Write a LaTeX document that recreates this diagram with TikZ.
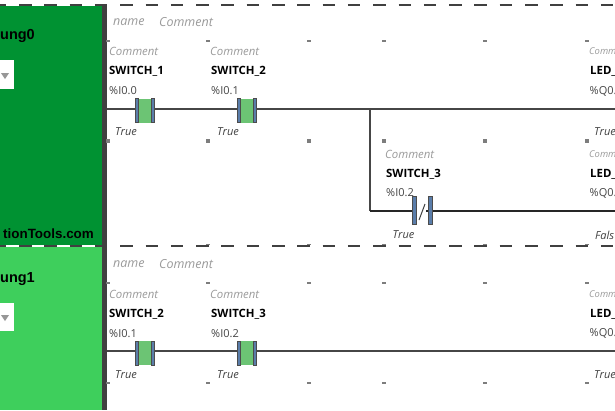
\documentclass[tikz,border=0pt]{standalone}
\usepackage{fontspec}
\setmainfont{Open Sans}
\newfontfamily\arialfont{Liberation Sans}
\definecolor{darkgrn}{RGB}{0,146,50}
\definecolor{lightgrn}{RGB}{62,207,92}
\definecolor{divgrey}{RGB}{64,64,64}
\definecolor{cmt}{RGB}{155,155,155}
\definecolor{addr}{RGB}{70,70,70}
\definecolor{bar}{RGB}{90,125,170}
\definecolor{fillc}{RGB}{108,196,116}
\definecolor{wire}{RGB}{70,70,70}
\definecolor{gridc}{RGB}{125,125,125}
\tikzset{
 x=1pt,y=-1pt,
 cmtlab/.style={anchor=west,inner sep=0,text=cmt,font=\fontsize{11.4}{11}\selectfont\itshape},
 cmtcut/.style={anchor=west,inner sep=0,text=cmt,font=\fontsize{9.4}{11}\selectfont\itshape},
 hdrlab/.style={anchor=west,inner sep=0,text=cmt,font=\fontsize{12.5}{12}\selectfont\itshape},
 varlab/.style={anchor=west,inner sep=0,text=black,font=\fontsize{11.4}{11}\selectfont\bfseries},
 addrlab/.style={anchor=west,inner sep=0,text=addr,font=\fontsize{11}{11}\selectfont},
 vallab/.style={anchor=west,inner sep=0,text=black!75,font=\fontsize{11}{11}\selectfont\itshape},
 runglab/.style={anchor=east,inner sep=0,text=black,font=\arialfont\fontsize{14.5}{14}\selectfont\bfseries},
 wirel/.style={draw=wire,line width=1.2pt},
 wireb/.style={draw=black!85,line width=1.7pt},
 barbox/.style={draw=black!70,fill=bar,line width=.6pt},
 griddot/.style={fill=gridc,draw=none},
 dashrule/.style={divgrey,line width=1.3pt,dash pattern=on 12.5pt off 12.8pt,dash phase=6.3pt},
}
\newcommand{\griddots}[2]{\foreach \gx in {108,208,309,384,485,587}{\fill[griddot] (\gx-2,#1-#2) rectangle (\gx+2,#1+#2);}}
\newcommand{\nocontact}[2]{%
 \fill[fillc] (#1+3,#2-12) rectangle (#1+17,#2+12);
 \draw[barbox] (#1,#2-12) rectangle (#1+3,#2+12);
 \draw[barbox] (#1+16,#2-12) rectangle (#1+19,#2+12);
}
\begin{document}
\begin{tikzpicture}
\useasboundingbox (0,0) rectangle (615,410);
\clip (0,0) rectangle (615,410);
\fill[white] (0,0) rectangle (615,410);
\fill[darkgrn] (0,6) rectangle (102,246);
\fill[lightgrn] (0,247) rectangle (102,410);
\fill[divgrey] (102,5) rectangle (107,410);
\draw[dashrule] (0,5) -- (615,5);
\draw[white,line width=1.4pt] (0,246) -- (107,246);
\draw[dashrule] (0,246) -- (615,246);
% left panels
\node[runglab] (r0) at (35,36) {ung0};
\fill[white] (0,60) rectangle (14,89);
\fill[gridc!80] (1,73) -- (9,73) -- (5,79) -- cycle;
\node[anchor=east,inner sep=0,font=\arialfont\fontsize{13.4}{13}\selectfont\bfseries] (site) at (94,234) {tionTools.com};
\node[runglab] (r1) at (35,279) {ung1};
\fill[white] (0,303) rectangle (14,331);
\fill[gridc!80] (1,315) -- (9,315) -- (5,321) -- cycle;
% grid marks
\griddots{41}{1}
\griddots{141}{2}
\griddots{283}{1}
\griddots{382.5}{1}
\foreach \gx in {208,309,384,485,587}{\fill[griddot] (\gx-2,243.5) rectangle (\gx+2,245);}
% headers
\node[hdrlab] (n0) at (113,22) {name};
\node[hdrlab] (c0) at (159,22) {Comment};
\node[hdrlab] (n1) at (113,264.5) {name};
\node[hdrlab] (c1) at (159,264.5) {Comment};
% rung 0
\coordinate (w0a) at (107,109);
\coordinate (w0b) at (615,109);
\draw[wirel] (w0a) -- (w0b);
\coordinate (bj) at (370,109);
\coordinate (bc) at (370,211);
\coordinate (be) at (615,211);
\draw[wirel] (bj) -- (bc);
\draw[wireb] (bc) -- (be);
\fill[white] (416,200) rectangle (426,222);
\nocontact{135}{110.5}
\nocontact{237}{110.5}
\fill[barbox,draw=black!70] (412,196) rectangle (416,224);
\fill[barbox,draw=black!70] (428,196) rectangle (432,224);
\draw[divgrey,line width=1pt] (419,220) -- (425,204);
% rung 0 labels
\node[cmtlab] at (109,51) {Comment};
\node[varlab] at (109,71) {SWITCH\_1};
\node[addrlab] at (109,91) {\%I0.0};
\node[vallab] at (115,132) {True};
\node[cmtlab] at (210,51) {Comment};
\node[varlab] at (211,71) {SWITCH\_2};
\node[addrlab] at (211,91) {\%I0.1};
\node[vallab] at (217,132) {True};
\node[cmtcut] at (589,51) {Comm};
\node[varlab] at (590,71) {LED\_};
\node[addrlab] at (589.5,91) {\%Q0.};
\node[vallab] at (594,132) {True};
\node[cmtlab] at (385,154) {Comment};
\node[varlab] at (386,174) {SWITCH\_3};
\node[addrlab] at (386,193) {\%I0.2};
\node[vallab] at (392.5,235) {True};
\node[cmtcut] at (589,154) {Comm};
\node[varlab] at (590,174) {LED\_};
\node[addrlab] at (589.5,193) {\%Q0.};
\node[vallab] at (595,235) {Fals};
% rung 1
\coordinate (w1a) at (107,351);
\coordinate (w1b) at (615,351);
\draw[wirel] (w1a) -- (w1b);
\nocontact{135}{353}
\nocontact{237}{353}
\node[cmtlab] at (109,294) {Comment};
\node[varlab] at (109,314) {SWITCH\_2};
\node[addrlab] at (109,333.5) {\%I0.1};
\node[vallab] at (115,375) {True};
\node[cmtlab] at (210,294) {Comment};
\node[varlab] at (211,314) {SWITCH\_3};
\node[addrlab] at (211,333.5) {\%I0.2};
\node[vallab] at (217,375) {True};
\node[cmtcut] at (589,294) {Comm};
\node[varlab] at (590,314) {LED\_};
\node[addrlab] at (589.5,333.5) {\%Q0.};
\node[vallab] at (594,375) {True};
\end{tikzpicture}
\end{document}
